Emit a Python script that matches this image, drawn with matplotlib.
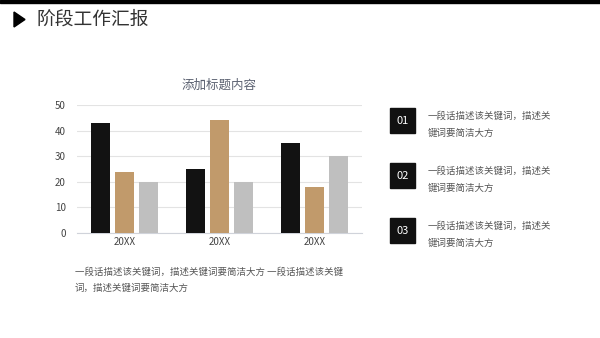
import matplotlib
matplotlib.use("Agg")
import matplotlib.pyplot as plt
import numpy as np

plt.rcParams['font.family'] = ['Noto Sans CJK SC', 'DejaVu Sans']

categories = ["20XX", "20XX", "20XX"]
series_a = [43, 25, 35]
series_b = [24, 44, 18]
series_c = [20, 20, 30]
colors = ["#121212", "#c19a6b", "#bfbfbf"]
yticks = [0, 10, 20, 30, 40, 50]

page_title = "阶段工作汇报"
chart_title = "添加标题内容"
item_numbers = ["01", "02", "03"]
item_text = "一段话描述该关键词，描述关\n键词要简洁大方"
bottom_text = "一段话描述该关键词，描述关键词要简洁大方 一段话描述该关键\n词，描述关键词要简洁大方"

W, H = 600, 338
fig = plt.figure(figsize=(W / 100, H / 100), dpi=100)

def fx(px):
    return px / W

def fy(py):
    return 1 - py / H

# top black strip
fig.patches.append(plt.Rectangle((0, fy(3)), 1, fy(0) - fy(3), transform=fig.transFigure,
                                 color="black", zorder=5))
# triangle marker + title
fig.patches.append(plt.Polygon([[fx(14), fy(12)], [fx(14), fy(27)], [fx(25), fy(19.5)]],
                               closed=True, transform=fig.transFigure, color="black"))
fig.text(fx(36), fy(19.5), page_title, fontsize=13.5, color="#333333", va="center", ha="left")

# chart
ax = fig.add_axes([fx(77), fy(233), fx(362) - fx(77), fy(105) - fy(233)])
x = np.arange(len(categories))
w = 0.2
ax.bar(x - 0.25, series_a, w, color=colors[0], zorder=3)
ax.bar(x, series_b, w, color=colors[1], zorder=3)
ax.bar(x + 0.25, series_c, w, color=colors[2], zorder=3)
ax.set_xlim(-0.5, 2.5)
ax.set_ylim(0, 50)
ax.set_yticks(yticks)
ax.set_xticks(x)
ax.set_xticklabels(categories)
ax.grid(axis="y", color="#e3e3e3", linewidth=0.8, zorder=0)
for s in ["top", "right", "left"]:
    ax.spines[s].set_visible(False)
ax.spines["bottom"].set_color("#d0d3da")
ax.tick_params(axis="both", length=0, labelsize=7, colors="#444444")
ax.tick_params(axis="y", pad=8)
ax.tick_params(axis="x", pad=3)
ax.set_title(chart_title, fontsize=9, color="#5a6070", pad=12)

# right side list
box_tops = [108, 163, 218]
for num, top in zip(item_numbers, box_tops):
    fig.patches.append(plt.Rectangle((fx(390), fy(top + 25)), fx(25), fy(top) - fy(top + 25),
                                     transform=fig.transFigure, color="#111111"))
    fig.text(fx(402.5), fy(top + 12.5), num, fontsize=8, color="white", ha="center", va="center")
    fig.text(fx(428), fy(top + 16.5), item_text, fontsize=6.8, color="#555555", ha="left", va="center",
             linespacing=2.0)

# bottom paragraph
fig.text(fx(75), fy(280), bottom_text, fontsize=6.8, color="#555555", ha="left", va="center",
         linespacing=2.0)

fig.savefig("out.png", dpi=100)
